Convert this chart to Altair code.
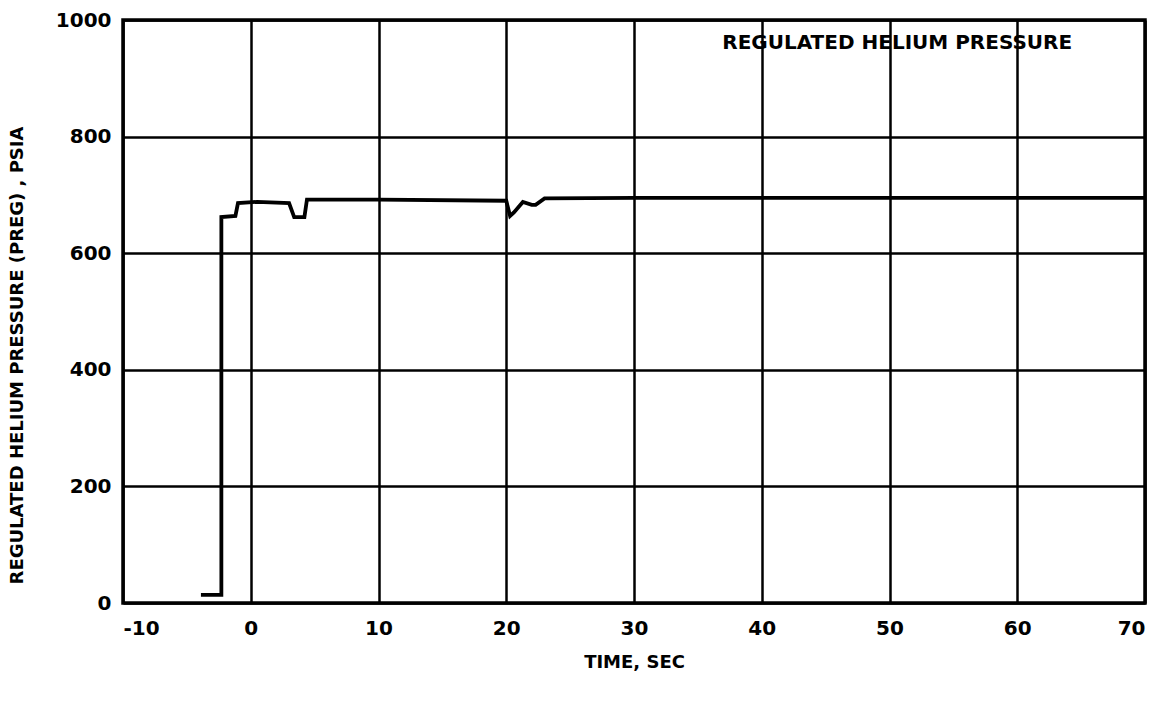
import altair as alt
import pandas as pd

time_sec = [-3.9, -2.3, -2.3, -1.2, -1.0, 0.5, 3.0, 3.4, 4.2, 4.4, 10.0, 20.0, 20.3, 20.6, 21.3, 22.0, 22.3, 23.0, 30.0, 50.0, 70.0]
preg_psia = [14, 14, 662, 664, 686, 688, 686, 662, 662, 692, 692, 690, 664, 670, 688, 683, 683, 694, 695, 695, 695]

df = pd.DataFrame({"t": time_sec, "p": preg_psia})

FONT = "DejaVu Sans"

x_ticks = [-10, 0, 10, 20, 30, 40, 50, 60, 70]
y_ticks = [0, 200, 400, 600, 800, 1000]

line = alt.Chart(df).mark_line(color="black", strokeWidth=3.8, interpolate="linear").encode(
    x=alt.X("t:Q", scale=alt.Scale(domain=[-10, 70], nice=False),
            axis=alt.Axis(values=x_ticks, title="TIME, SEC", grid=True, gridColor="black",
                          gridWidth=2.5, gridOpacity=1, ticks=False, domain=False,
                          labelExpr="'' + datum.value",
                          labelFont=FONT, labelFontWeight="bold", labelFontSize=20,
                          labelColor="black", labelPadding=15, titleFont=FONT,
                          titleFontWeight="bold", titleFontSize=18, titlePadding=15,
                          titleColor="black")),
    y=alt.Y("p:Q", scale=alt.Scale(domain=[0, 1000], nice=False),
            axis=alt.Axis(values=y_ticks, title="REGULATED HELIUM PRESSURE (PREG) , PSIA",
                          grid=True, gridColor="black", gridWidth=2.5, gridOpacity=1,
                          ticks=False, domain=False, labelExpr="'' + datum.value",
                          labelFont=FONT, labelFontWeight="bold",
                          labelFontSize=20, labelColor="black", labelPadding=12,
                          titleFont=FONT, titleFontWeight="bold", titleFontSize=18,
                          titlePadding=29, titleY=335, titleColor="black")),
)

note = alt.Chart(pd.DataFrame({"label": ["REGULATED HELIUM PRESSURE"]})).mark_text(
    font=FONT, fontWeight="bold", fontSize=20, color="black", align="center", baseline="middle"
).encode(
    x=alt.datum(50.6),
    y=alt.datum(960),
    text="label:N",
)

chart = (line + note).properties(
    width=1022, height=583,
    autosize=alt.AutoSizeParams(type="none"),
    padding={"left": 123, "top": 20, "right": 29, "bottom": 103},
    background="white",
).configure_view(stroke="black", strokeWidth=3.5)

chart.save("out.html", embed_options={"renderer": "svg", "actions": False})
